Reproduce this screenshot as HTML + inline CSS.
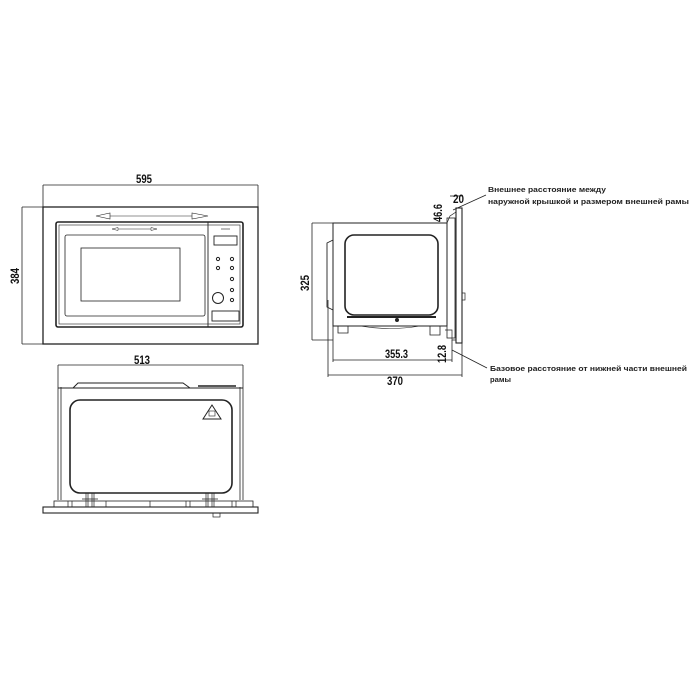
<!DOCTYPE html>
<html><head><meta charset="utf-8"><style>html,body{margin:0;padding:0;background:#fff}svg{display:block}</style></head>
<body>
<svg width="700" height="700" viewBox="0 0 700 700" xmlns="http://www.w3.org/2000/svg" font-family="'Liberation Sans', 'DejaVu Sans', sans-serif" fill="none" stroke="#222">
<!-- FRONT VIEW -->
<g stroke-width="0.8">
<line x1="43" y1="185" x2="258" y2="185"/>
<line x1="43" y1="185" x2="43" y2="207"/>
<line x1="258" y1="185" x2="258" y2="207"/>
<line x1="22" y1="207" x2="43" y2="207"/>
<line x1="22" y1="344" x2="43" y2="344"/>
<line x1="22" y1="207" x2="22" y2="344"/>
</g>
<g fill="#111" stroke="none" font-weight="bold" font-size="12">
<text x="136" y="183" textLength="16" lengthAdjust="spacingAndGlyphs">595</text>
<text transform="translate(19,284) rotate(-90)" textLength="16" lengthAdjust="spacingAndGlyphs">384</text>
</g>
<rect x="43" y="207" width="215" height="137" stroke-width="1.3"/>
<rect x="56" y="222" width="187" height="105" rx="2" stroke-width="1.6"/>
<rect x="59" y="225" width="181" height="99" stroke-width="0.6"/>
<line x1="208" y1="222" x2="208" y2="327" stroke-width="0.9"/>
<rect x="65" y="235" width="140" height="81" rx="2" stroke-width="0.8"/>
<rect x="81" y="248" width="99" height="53" stroke-width="0.8"/>
<polygon points="96,216 110,213 110,219" stroke-width="0.6"/>
<polygon points="208,216 192,213 192,219" stroke-width="0.6"/>
<line x1="110" y1="216" x2="192" y2="216" stroke-width="0.6"/>
<polygon points="112,229 118,227.5 118,230.5" stroke-width="0.5"/>
<polygon points="157,229 151,227.5 151,230.5" stroke-width="0.5"/>
<line x1="118" y1="229" x2="151" y2="229" stroke-width="0.5"/>
<line x1="221" y1="229" x2="230" y2="229" stroke-width="0.6"/>
<rect x="214" y="236" width="23" height="9" stroke-width="0.9"/>
<g stroke-width="1">
<circle cx="218" cy="259" r="1.6"/><circle cx="232" cy="259" r="1.6"/>
<circle cx="218" cy="268" r="1.6"/><circle cx="232" cy="268" r="1.6"/>
<circle cx="232" cy="279" r="1.6"/><circle cx="232" cy="290" r="1.6"/>
<circle cx="232" cy="300" r="1.6"/>
<circle cx="218" cy="298" r="5.5"/>
</g>
<rect x="212" y="311" width="27" height="10" stroke-width="0.9"/>

<!-- SIDE VIEW -->
<rect x="333" y="223" width="114" height="103" stroke-width="1"/>
<rect x="345" y="235" width="93" height="80" rx="9" stroke-width="1.6"/>
<line x1="347" y1="317" x2="436" y2="317" stroke-width="2"/>
<circle cx="397" cy="320" r="1.5" fill="#222"/>
<path d="M333 240 L327 243 L327 307 L333 310" stroke-width="0.9"/>
<path d="M338 326 L338 333 L348 333 L348 326 M430 326 L430 335 L440 335 L440 326" stroke-width="0.8"/>
<path d="M360 326 Q390 331 420 326" stroke-width="0.6"/>
<rect x="447" y="218" width="8" height="120" stroke-width="0.8"/>
<rect x="456" y="208" width="6" height="135" stroke-width="1.1"/>
<path d="M447 223 L450 216 L456 212" stroke-width="0.7"/>
<path d="M445 330 L452 330 L452 340 L456 340" stroke-width="0.7"/>
<rect x="462" y="293" width="3" height="7" stroke-width="0.7"/>
<g stroke-width="0.8">
<line x1="312" y1="223" x2="333" y2="223"/>
<line x1="312" y1="340" x2="333" y2="340"/>
<line x1="312" y1="223" x2="312" y2="340"/>
<line x1="333" y1="326" x2="333" y2="362"/>
<line x1="328" y1="300" x2="328" y2="377"/>
<line x1="333" y1="360" x2="452" y2="360"/>
<line x1="328" y1="375" x2="462" y2="375"/>
<line x1="462" y1="343" x2="462" y2="377"/>
<line x1="452" y1="340" x2="452" y2="362"/>
<line x1="450" y1="196" x2="462" y2="196"/>
<line x1="453" y1="210" x2="486" y2="195"/>
<line x1="452" y1="350" x2="487" y2="368"/>
</g>
<g fill="#111" stroke="none" font-weight="bold" font-size="12">
<text transform="translate(309,291) rotate(-90)" textLength="16" lengthAdjust="spacingAndGlyphs">325</text>
<text x="385" y="358" textLength="23" lengthAdjust="spacingAndGlyphs">355.3</text>
<text x="387" y="385" textLength="16" lengthAdjust="spacingAndGlyphs">370</text>
<text x="453" y="203" textLength="11" lengthAdjust="spacingAndGlyphs">20</text>
<text transform="translate(442,222) rotate(-90)" textLength="18" lengthAdjust="spacingAndGlyphs">46.6</text>
<text transform="translate(446,363) rotate(-90)" textLength="18" lengthAdjust="spacingAndGlyphs">12.8</text>
</g>
<g fill="#222" stroke="none" font-weight="bold" font-size="7.6">
<text x="488" y="192" textLength="118" lengthAdjust="spacingAndGlyphs">Внешнее расстояние между</text>
<text x="488" y="204" textLength="201" lengthAdjust="spacingAndGlyphs">наружной крышкой и размером внешней рамы</text>
<text x="490" y="371" textLength="197" lengthAdjust="spacingAndGlyphs">Базовое расстояние от нижней части внешней</text>
<text x="490" y="382">рамы</text>
</g>

<!-- BOTTOM VIEW -->
<text x="134" y="364" font-size="12" font-weight="bold" fill="#111" stroke="none" textLength="16" lengthAdjust="spacingAndGlyphs">513</text>
<g stroke-width="0.8">
<line x1="58" y1="365" x2="243" y2="365"/>
<line x1="58" y1="365" x2="58" y2="500"/>
<line x1="243" y1="365" x2="243" y2="500"/>
<line x1="61" y1="387" x2="61" y2="500"/>
<line x1="240" y1="387" x2="240" y2="500"/>
</g>
<path d="M73 388 L78 383 L183 383 L190 388" stroke-width="1"/>
<line x1="198" y1="386" x2="236" y2="386" stroke-width="1.6"/>
<line x1="58" y1="388" x2="243" y2="388" stroke-width="0.9"/>
<rect x="70" y="400" width="162" height="93" rx="10" stroke-width="1.6"/>
<polygon points="212,405 203,419 221,419" stroke-width="1"/>
<rect x="209" y="411" width="6" height="5" stroke-width="0.6"/>
<rect x="54" y="501" width="199" height="6" stroke-width="0.8"/>
<rect x="43" y="507" width="215" height="6" stroke-width="1.1"/>
<g stroke-width="0.7">
<path d="M86 493 L86 507 M94 493 L94 507 M88 493 L88 507 M92 493 L92 507 M82 499 L98 499"/>
<path d="M206 493 L206 507 M214 493 L214 507 M208 493 L208 507 M212 493 L212 507 M202 499 L218 499"/>
<path d="M68 501 L68 507 M72 501 L72 507 M106 501 L106 507 M150 501 L150 507 M186 501 L186 507 M190 501 L190 507 M232 501 L232 507 M236 501 L236 507"/>
<rect x="213" y="513" width="7" height="4"/>
</g>
</svg>
</body></html>
